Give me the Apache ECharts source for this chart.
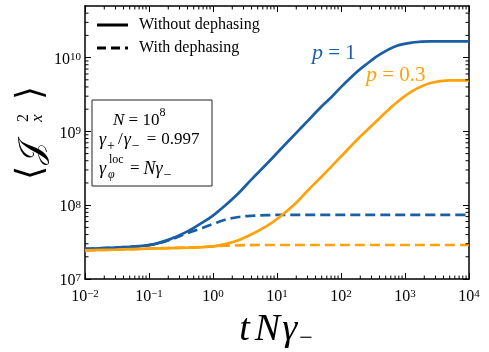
<!DOCTYPE html>
<html><head><meta charset="utf-8">
<script src="https://cdn.jsdelivr.net/npm/echarts@6/dist/echarts.min.js"></script>
<style>html,body{margin:0;padding:0;background:#fff}#c{width:489px;height:352px}</style>
</head><body><div id="c"></div>
<script>
// ---- data ----
const xValues = [0.01,0.03,0.1,0.2,0.4,0.7,1,1.5,2.5,4,7,11,20,30,50,70,100,180,250,400,750,1300,2500,5000,10000];
const blueSolid = [2.56e7,2.66e7,2.88e7,3.39e7,4.42e7,5.89e7,7.24e7,9.66e7,1.45e8,2.24e8,3.67e8,5.56e8,9.55e8,1.38e9,2.19e9,2.88e9,3.98e9,6.46e9,8.13e9,1.10e10,1.45e10,1.60e10,1.66e10,1.66e10,1.66e10];
const blueDashed = [2.56e7,2.66e7,2.88e7,3.33e7,4.20e7,4.95e7,5.56e7,6.31e7,6.92e7,7.19e7,7.33e7,7.38e7,7.38e7,7.38e7,7.38e7,7.38e7,7.38e7,7.38e7,7.38e7,7.38e7,7.38e7,7.38e7,7.38e7,7.38e7,7.38e7];
const orangeSolid = [2.45e7,2.50e7,2.58e7,2.62e7,2.66e7,2.71e7,2.77e7,2.95e7,3.35e7,4.03e7,5.25e7,6.92e7,1.08e8,1.57e8,2.45e8,3.31e8,4.57e8,7.76e8,1.02e9,1.51e9,2.48e9,3.51e9,4.52e9,4.90e9,4.90e9];
const orangeDashed = [2.45e7,2.50e7,2.58e7,2.62e7,2.66e7,2.71e7,2.76e7,2.82e7,2.86e7,2.88e7,2.89e7,2.89e7,2.89e7,2.89e7,2.89e7,2.89e7,2.89e7,2.89e7,2.89e7,2.89e7,2.89e7,2.89e7,2.89e7,2.89e7,2.89e7];
const xMajorTicks = [1e-2,1e-1,1,1e1,1e2,1e3,1e4];
const xTickExponents = ['−2','−1','0','1','2','3','4'];
const yMajorTicks = [1e7,1e8,1e9,1e10];
const yTickExponents = ['7','8','9','10'];
const xMinorTicks = [2e-2,3e-2,4e-2,5e-2,6e-2,7e-2,8e-2,9e-2,0.2,0.3,0.4,0.5,0.6,0.7,0.8,0.9,2,3,4,5,6,7,8,9,20,30,40,50,60,70,80,90,200,300,400,500,600,700,800,900,2000,3000,4000,5000,6000,7000,8000,9000];
const yMinorTicks = [2e7,3e7,4e7,5e7,6e7,7e7,8e7,9e7,2e8,3e8,4e8,5e8,6e8,7e8,8e8,9e8,2e9,3e9,4e9,5e9,6e9,7e9,8e9,9e9,2e10,3e10,4e10];
const seriesNames = ['p = 1','p = 0.3'];
const legendNames = ['Without dephasing','With dephasing'];

// ---- style ----
const FONT = 'Liberation Serif';
const BLUE = '#1a5ea5', ORANGE = '#ffa10a';
const chart = echarts.init(document.getElementById('c'), null, {renderer:'canvas'});
const pairs = ys => xValues.map((x,i)=>[x, ys[i]]);
const tickRich = {
  b:{fontSize:16, fontFamily:FONT, color:'#000', lineHeight:22, verticalAlign:'top'},
  s:{fontSize:11, fontFamily:FONT, color:'#000', lineHeight:11, verticalAlign:'top'}
};
function lab(ticks, exps){ return v => { const i = ticks.findIndex(t => Math.abs(t-v)/t < 1e-6); return i<0 ? '' : '{b|10}{s|'+exps[i]+'}'; }; }
const X0 = 0.01, X1 = 1e4, Y0 = 1e7, Y1 = 5e10;
const MINOR = 3.5;
function xAx(pos){
  return {type:'log', logBase:10, min:X0, max:X1, position:pos, gridIndex:0,
    axisLine:{show:true, lineStyle:{color:'#000', width:1.5}},
    axisTick:{show:true, inside:true, length:6, customValues:xMajorTicks, lineStyle:{color:'#000', width:1}},
    axisLabel:{show: pos==='bottom', customValues: xMajorTicks, formatter: lab(xMajorTicks, xTickExponents), rich: tickRich, margin:10},
    splitLine:{show:false}, minorTick:{show:false}};
}
function yAx(pos){
  return {type:'log', logBase:10, min:Y0, max:Y1, position:pos, gridIndex:0,
    axisLine:{show:true, lineStyle:{color:'#000', width:1.5}},
    axisTick:{show:true, inside:true, length:6, customValues:yMajorTicks, lineStyle:{color:'#000', width:1}},
    axisLabel:{show: pos==='left', customValues: yMajorTicks, formatter: lab(yMajorTicks, yTickExponents), rich: tickRich, margin:4, padding:[10,0,0,0]},
    splitLine:{show:false}, minorTick:{show:false}};
}
const ital = {fontStyle:'italic', fontFamily:FONT};
const rm = {fontFamily:FONT};
function legendEntry(y, dash, label){
  return [
    {type:'line', shape:{x1:97, y1:y, x2:128, y2:y}, style:{stroke:'#000', lineWidth:3, lineDash:dash}, z:11},
    {type:'text', x:139, y:y, z:11, style:{text:label, font:'16px '+FONT, fill:'#000', verticalAlign:'middle', align:'left'}}
  ];
}
function tickLine(x1,y1,x2,y2){ return {type:'line', shape:{x1,y1,x2,y2}, style:{stroke:'#000', lineWidth:1}}; }
chart.setOption({
  animation:false,
  backgroundColor:'#fff',
  grid:{left:85, right:20, top:6, bottom:73, containLabel:false},
  xAxis:[xAx('bottom'), xAx('top')],
  yAxis:[yAx('left'), yAx('right')],
  series:[
    {name:'x minor ticks', type:'custom', silent:true, z:6, clip:false,
      data: xMinorTicks.map(v => [v, Y0]), encode:{x:0, y:1},
      renderItem:(params, api) => { const v = api.value(0); const pb = api.coord([v, Y0]); const pt = api.coord([v, Y1]);
        return {type:'group', children:[tickLine(pb[0], pb[1], pb[0], pb[1]-MINOR), tickLine(pt[0], pt[1], pt[0], pt[1]+MINOR)]}; }},
    {name:'y minor ticks', type:'custom', silent:true, z:6, clip:false,
      data: yMinorTicks.map(v => [X0, v]), encode:{x:0, y:1},
      renderItem:(params, api) => { const v = api.value(1); const pl = api.coord([X0, v]); const pr = api.coord([X1, v]);
        return {type:'group', children:[tickLine(pl[0], pl[1], pl[0]+MINOR, pl[1]), tickLine(pr[0], pr[1], pr[0]-MINOR, pr[1])]}; }},
    {name:seriesNames[0]+' with dephasing', type:'line', data:pairs(blueDashed), symbol:'none', smooth:0.35, lineStyle:{color:BLUE, width:2.7, type:[10,5]}, z:3},
    {name:seriesNames[1]+' with dephasing', type:'line', data:pairs(orangeDashed), symbol:'none', smooth:0.35, lineStyle:{color:ORANGE, width:2.7, type:[10,5]}, z:3},
    {name:seriesNames[0], type:'line', data:pairs(blueSolid), symbol:'none', smooth:0.35, lineStyle:{color:BLUE, width:2.7}, z:4},
    {name:seriesNames[1], type:'line', data:pairs(orangeSolid), symbol:'none', smooth:0.35, lineStyle:{color:ORANGE, width:2.7}, z:4}
  ],
  graphic:[].concat(
    legendEntry(25, null, legendNames[0]),
    legendEntry(48, [9,5], legendNames[1]),
  [
    {type:'rect', shape:{x:92, y:100, width:120, height:86}, style:{fill:'#fff', stroke:'#222', lineWidth:1}, z:10},
    {type:'text', x:113, y:118, z:11, style:{text:'{i|N}{r| = 10}{p|8}', verticalAlign:'middle', align:'left',
      rich:{i:Object.assign({fontSize:17, lineHeight:22, verticalAlign:'bottom'}, ital), r:Object.assign({fontSize:17, lineHeight:22, verticalAlign:'bottom'}, rm), p:Object.assign({fontSize:12, lineHeight:12, verticalAlign:'top'}, rm)}}},
    {type:'text', x:99, y:142, z:11, style:{text:'{i|γ}{b|+}{r|/}{i|γ}{b|−}{e|=}{r|0.997}', verticalAlign:'middle', align:'left',
      rich:{i:Object.assign({fontSize:18, lineHeight:22, verticalAlign:'top'}, ital), r:Object.assign({fontSize:17, lineHeight:22, verticalAlign:'top', padding:[0,1,0,1]}, rm),
            e:Object.assign({fontSize:17, lineHeight:22, verticalAlign:'top', padding:[0,4,0,5]}, rm), b:Object.assign({fontSize:14, lineHeight:12, verticalAlign:'bottom', padding:[0,2,0,1]}, rm)}}},
    {type:'text', x:99, y:169, z:11, style:{text:'γ', font:'italic 18px '+FONT, verticalAlign:'middle', align:'left'}},
    {type:'text', x:109, y:160, z:11, style:{text:'loc', font:'12px '+FONT, verticalAlign:'middle', align:'left'}},
    {type:'text', x:108, y:175, z:11, style:{text:'φ', font:'italic 12px '+FONT, verticalAlign:'middle', align:'left'}},
    {type:'text', x:127, y:171, z:11, style:{text:'{e|=}{i|Nγ}{b|−}', verticalAlign:'middle', align:'left',
      rich:{i:Object.assign({fontSize:18, lineHeight:22, verticalAlign:'top'}, ital), e:Object.assign({fontSize:17, lineHeight:22, verticalAlign:'top', padding:[0,4,0,3]}, rm), b:Object.assign({fontSize:14, lineHeight:12, verticalAlign:'bottom', padding:[0,0,0,1]}, rm)}}},
    {type:'text', x:312, y:53, z:11, style:{text:'{i|p}{r| = 1}', verticalAlign:'middle', align:'left', fill:BLUE,
      rich:{i:Object.assign({fontSize:22, color:BLUE}, ital), r:Object.assign({fontSize:21, color:BLUE}, rm)}}},
    {type:'text', x:366, y:75, z:11, style:{text:'{i|p}{r| = 0.3}', verticalAlign:'middle', align:'left', fill:ORANGE,
      rich:{i:Object.assign({fontSize:22, color:ORANGE}, ital), r:Object.assign({fontSize:21, color:ORANGE}, rm)}}},
    {type:'text', x:276, y:331, z:11, style:{text:'{t|t}{n|N}{g|γ}{b|−}', verticalAlign:'middle', align:'center',
      rich:{t:Object.assign({fontSize:38, lineHeight:40, verticalAlign:'top', padding:[0,5,0,0]}, ital),
            n:Object.assign({fontSize:38, lineHeight:40, verticalAlign:'top', padding:[0,2,0,0]}, ital),
            g:Object.assign({fontSize:38, lineHeight:40, verticalAlign:'top'}, ital),
            b:Object.assign({fontSize:24, lineHeight:20, verticalAlign:'bottom', padding:[0,0,0,2]}, rm)}}},
    {type:'group', x:30, y:130, rotation:Math.PI/2, z:11, children:[
      {type:'text', x:-50, y:2, style:{text:'⟨', font:'36px DejaVu Serif', verticalAlign:'middle', align:'left'}},
      {type:'text', x:-35, y:3, style:{text:'𝒥', font:'34px '+FONT, verticalAlign:'middle', align:'left'}},
      {type:'text', x:8, y:-6, style:{text:'2', font:'16px '+FONT, verticalAlign:'middle', align:'left'}},
      {type:'text', x:8, y:8, style:{text:'x', font:'italic 17px '+FONT, verticalAlign:'middle', align:'left'}},
      {type:'text', x:30, y:2, style:{text:'⟩', font:'36px DejaVu Serif', verticalAlign:'middle', align:'left'}}
    ]}
  ])
});
</script></body></html>
